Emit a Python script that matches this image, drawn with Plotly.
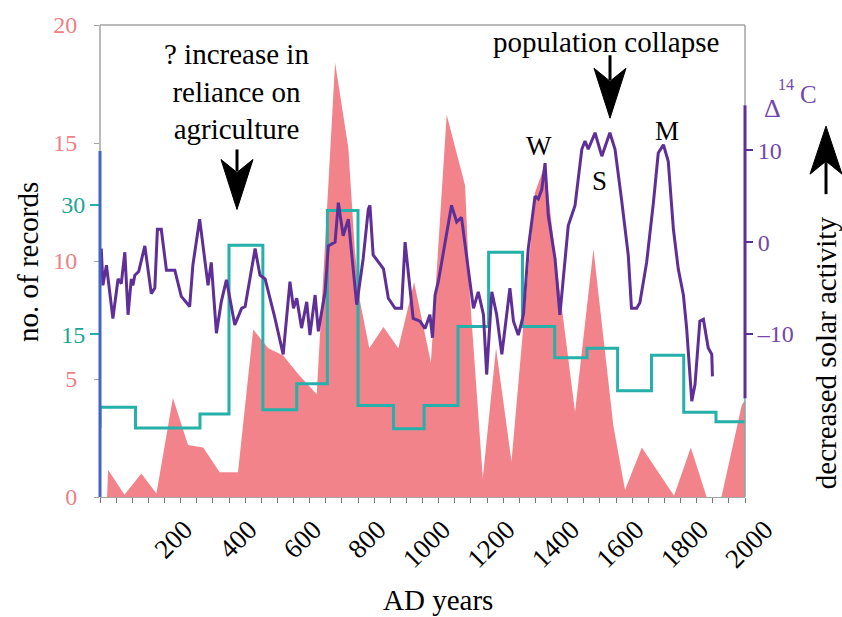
import plotly.graph_objects as go

# ---------------- data ----------------
# pink area: number of records (left pink axis 0-20)
pink_years = [22, 25, 76, 128, 175, 226, 273, 320, 371, 428, 475, 522, 568, 615, 672,
              729, 770, 790, 806, 835, 879, 925, 974, 1026, 1075, 1132, 1147, 1187,
              1228, 1276, 1349, 1380, 1411, 1473, 1530, 1592, 1628, 1680, 1780, 1832,
              1881, 1927, 1990, 2000]
pink_counts = [0, 1.15, 0.1, 1.0, 0.15, 4.2, 2.2, 2.1, 1.05, 1.05, 7.1, 6.3, 6.0, 5.2, 4.35,
               18.4, 14.8, 10.5, 8.3, 6.3, 7.2, 6.3, 9.1, 5.7, 16.2, 13.2, 8.5, 0.8,
               6.3, 1.5, 12.9, 14.1, 10.3, 3.6, 10.5, 3.0, 0.3, 2.1, 0.05, 2.1,
               0, 0, 3.9, 4.1]

# teal step line: number of records (teal axis)
teal_years = [0, 0, 110, 310, 400, 505, 610, 705, 800, 910, 1005, 1110, 1205, 1310,
              1410, 1510, 1605, 1710, 1810, 1910, 2000]
teal_counts = [4.2, 6.6, 4.2, 5.8, 25.3, 6.3, 9.3, 29.3, 6.8, 4.1, 6.8, 15.9, 24.5, 15.9,
               12.3, 13.4, 8.5, 12.6, 6.0, 4.9, 4.9]

# purple line: delta 14C (right axis)
purple_years = [4, 9, 20, 40, 56, 66, 77, 87, 97, 102, 108, 120, 139, 159, 170, 178, 190,
                206, 232, 252, 278, 288, 309, 325, 335, 345, 361, 376, 392, 418, 439, 450,
                465, 481, 496, 512, 540, 568, 589, 600, 610, 625, 641, 651, 667, 677, 698,
                708, 729, 739, 754, 770, 796, 816, 832, 837, 847, 879, 894, 915, 935, 946,
                971, 992, 1008, 1023, 1031, 1039, 1049, 1070, 1090, 1106, 1121, 1147, 1158,
                1173, 1189, 1199, 1215, 1230, 1246, 1261, 1271, 1282, 1297, 1313, 1328,
                1349, 1359, 1370, 1380, 1390, 1411, 1426, 1437, 1452, 1473, 1494, 1504,
                1514, 1535, 1556, 1581, 1597, 1617, 1638, 1648, 1664, 1674, 1695, 1716,
                1731, 1747, 1762, 1778, 1793, 1809, 1819, 1835, 1845, 1860, 1871, 1886,
                1897, 1899]
purple_d14c = [-0.7, -4.7, -2.5, -8.3, -4.0, -4.5, -1.1, -7.9, -4.0, -4.7, -3.6, -3.2, -0.4,
               -5.6, -5.0, 1.4, 1.4, -3.05, -3.05, -5.9, -7.0, -2.5, 2.5, -2.2, -4.7, -2.2,
               -9.9, -6.5, -4.1, -9.0, -7.2, -7.0, -3.8, -0.7, -3.6, -4.0, -7.9, -12.2,
               -4.3, -7.2, -6.1, -9.35, -6.5, -10.1, -5.75, -9.7, -5.4, -0.4, 0, 4.3, 0.7,
               2.5, -6.8, -1.8, 3.6, 4.0, -1.4, -2.9, -6.1, -7.2, -7.2, 0, -8.3, -8.6, -9.4,
               -7.9, -10.4, -5.75, -4.3, 0, 4.0, 2.2, 2.7, -4.3, -7.2, -5.4, -7.9, -14.4,
               -5.4, -7.9, -12.2, -7.9, -5.0, -8.6, -10.1, -7.9, -0.7, 5.0, 4.7, 5.75, 8.6,
               2.9, -1.8, -7.9, -3.6, 1.8, 4.0, 10.1, 11.0, 10.1, 11.9, 9.35, 11.9, 10.1,
               4.7, -1.4, -7.2, -7.2, -6.6, -2.2, 4.3, 9.7, 10.6, 8.8, 1.4, -2.9, -5.75,
               -9.35, -17.3, -15.5, -8.6, -8.4, -11.5, -12.2, -14.6]

x_tickvals = [200, 400, 600, 800, 1000, 1200, 1400, 1600, 1800, 2000]
pink_ticks = [0, 5, 10, 15, 20]
teal_ticks = [15, 30]
purple_ticks = [-10, 0, 10]
purple_ticktext = ["\u201310", "0", "10"]

# ---------------- style ----------------
SERIF = "Liberation Serif, Times New Roman, serif"
PINK = "#f2838b"
PINK_TXT = "#f07f86"
TEAL = "#26b0aa"
TEAL_TXT = "#1fa596"
PURPLE = "#5f2f98"
PURPLE_TXT = "#7346ac"
BLUE = "#4463c6"
GREY = "#a3a3a3"

fig = go.Figure()
fig.add_trace(go.Scatter(x=pink_years, y=pink_counts, mode="lines",
                         line=dict(width=0, color=PINK), fill="tozeroy",
                         fillcolor=PINK, yaxis="y", hoverinfo="skip"))
fig.add_trace(go.Scatter(x=teal_years, y=teal_counts, mode="lines",
                         line=dict(shape="hv", color=TEAL, width=3), yaxis="y2"))
fig.add_trace(go.Scatter(x=purple_years, y=purple_d14c, mode="lines",
                         line=dict(color=PURPLE, width=3), yaxis="y3"))

fig.update_layout(
    width=842, height=617,
    margin=dict(l=100, r=97, t=21, b=120),
    paper_bgcolor="white", plot_bgcolor="white", showlegend=False,
    font=dict(family=SERIF, size=24, color="black"),
    xaxis=dict(range=[0, 2000], tickmode="array", tickvals=x_tickvals, tickangle=-45,
               ticks="outside", ticklen=5, tickcolor="#777", showline=True,
               linecolor=GREY, linewidth=1, showgrid=False, zeroline=False,
               ticklabelshift=20,
               minor=dict(tickmode="array", tickvals=list(range(0, 2001, 50)),
                          ticks="outside", ticklen=5, tickcolor="#777", showgrid=False),
               tickfont=dict(size=27, color="black")),
    yaxis=dict(range=[0, 20], tickmode="array", tickvals=pink_ticks,
               tickfont=dict(color=PINK_TXT, size=24), ticks="outside", ticklen=5,
               tickcolor=GREY, showgrid=False, zeroline=False, showline=False,
               ticklabelstandoff=12),
    yaxis2=dict(range=[-3.78, 50.74], overlaying="y", side="left", anchor="x",
                tickmode="array", tickvals=teal_ticks,
                tickfont=dict(color=TEAL_TXT, size=24), ticks="outside", ticklen=9,
                tickcolor=TEAL, tickwidth=2, showgrid=False, zeroline=False,
                showline=False),
    yaxis3=dict(range=[-27.72, 23.62], overlaying="y", side="right", anchor="x",
                tickmode="array", tickvals=purple_ticks, ticktext=purple_ticktext,
                tickfont=dict(color=PURPLE_TXT, size=24), ticks="outside", ticklen=7,
                tickcolor=PURPLE, tickwidth=2, showgrid=False, zeroline=False,
                showline=False),
)

# frame pieces
shapes = [
    dict(type="line", xref="paper", yref="paper", x0=0, x1=1, y0=1, y1=1,
         line=dict(color=GREY, width=1.5)),
    dict(type="line", xref="paper", yref="y", x0=0, x1=0, y0=14.66, y1=20,
         line=dict(color=GREY, width=1.5)),
    dict(type="line", xref="paper", yref="y", x0=0, x1=0, y0=0, y1=14.66,
         line=dict(color=BLUE, width=3)),
    dict(type="line", xref="paper", yref="y3", x0=1, x1=1, y0=14.9, y1=23.62,
         line=dict(color=GREY, width=1.5)),
    dict(type="line", xref="paper", yref="y3", x0=1, x1=1, y0=-17.0, y1=14.9,
         line=dict(color=PURPLE, width=3)),
    dict(type="line", xref="paper", yref="y3", x0=1, x1=1, y0=-27.72, y1=-17.0,
         line=dict(color="#7fa8a6", width=1.5)),
]


def down_arrow(xp, yp, shaft):
    return [
        dict(type="path", xref="paper", yref="paper", xsizemode="pixel", ysizemode="pixel",
             xanchor=xp, yanchor=yp, path="M0,0 L16,50 L0,37 L-16,50 Z",
             fillcolor="black", line=dict(color="black", width=1)),
        dict(type="path", xref="paper", yref="paper", xsizemode="pixel", ysizemode="pixel",
             xanchor=xp, yanchor=yp, path=f"M0,38 L0,{shaft}",
             line=dict(color="black", width=3)),
    ]


def up_arrow(xp, yp, shaft):
    return [
        dict(type="path", xref="paper", yref="paper", xsizemode="pixel", ysizemode="pixel",
             xanchor=xp, yanchor=yp, path="M0,0 L16,-48 L0,-35 L-16,-48 Z",
             fillcolor="black", line=dict(color="black", width=1)),
        dict(type="path", xref="paper", yref="paper", xsizemode="pixel", ysizemode="pixel",
             xanchor=xp, yanchor=yp, path=f"M0,-36 L0,{-shaft}",
             line=dict(color="black", width=3)),
    ]


shapes += down_arrow(0.2124, 0.6092, 60)
shapes += down_arrow(0.7907, 0.8025, 63)
shapes += up_arrow(1.1256, 0.7857, 68)
fig.update_layout(shapes=shapes)

ann_font = dict(family=SERIF, size=29, color="black")


def ann(text, x, y, font, **kw):
    d = dict(text=text, x=x, y=y, xref="paper", yref="paper", showarrow=False,
             xanchor="center", yanchor="middle", font=font, borderpad=0)
    d.update(kw)
    return d


letter_font = dict(family=SERIF, size=27, color="black")
annotations = [
    ann("? increase in<br>reliance on<br>agriculture", 0.2124, 0.859, ann_font,
        align="center"),
    ann("population collapse", 0.7845, 0.965, ann_font),
    ann("W", 0.680, 0.744, letter_font),
    ann("S", 0.775, 0.670, letter_font),
    ann("M", 0.8786, 0.775, letter_font),
    ann("no. of records", -0.1116, 0.498, ann_font, textangle=-90),
    ann("AD years", 0.524, -0.2185, ann_font),
    ann("decreased solar activity", 1.1256, 0.3046, ann_font, textangle=-90),
    ann("\u0394", 1.0434, 0.8235, dict(family=SERIF, size=26, color=PURPLE_TXT)),
    ann("14", 1.0636, 0.874, dict(family=SERIF, size=16, color=PURPLE_TXT)),
    ann("C", 1.0985, 0.853, dict(family=SERIF, size=25, color=PURPLE_TXT)),
]
fig.update_layout(annotations=annotations)

fig.write_html("out.html")
